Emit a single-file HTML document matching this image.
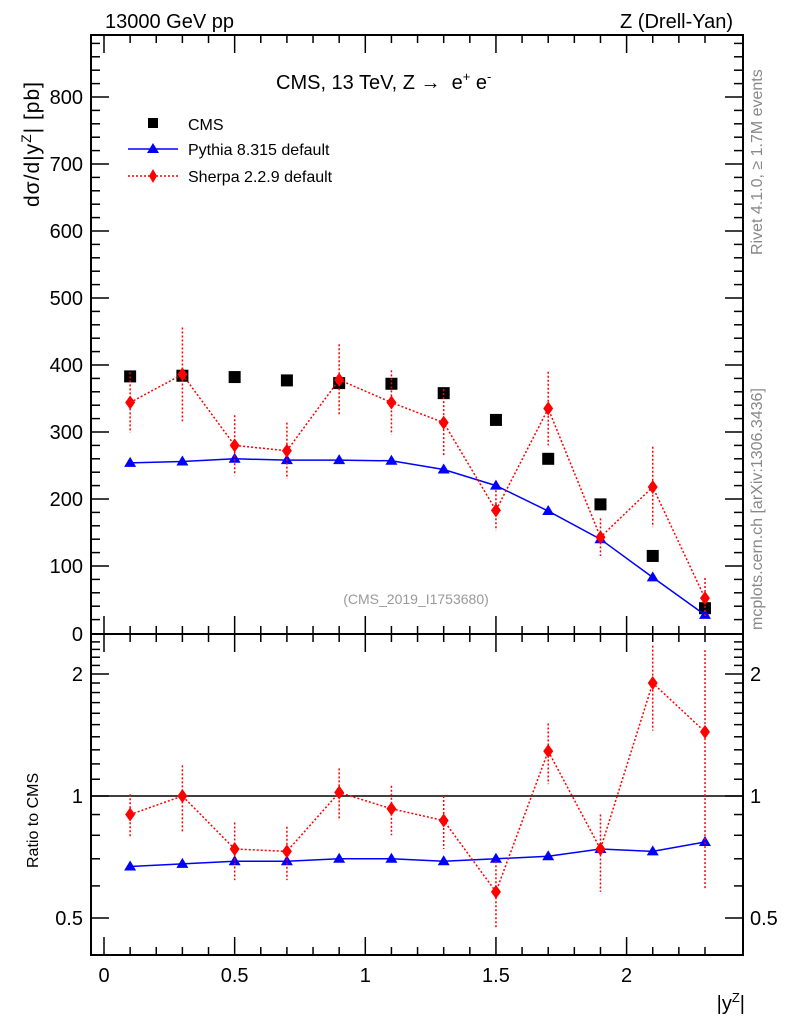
<!DOCTYPE html>
<html><head><meta charset="utf-8"><style>
body{margin:0;background:#fff;}
svg{display:block;font-family:"Liberation Sans",sans-serif;}
</style></head><body>
<svg id="c" width="786" height="1024" viewBox="0 0 786 1024" xmlns="http://www.w3.org/2000/svg">
<g id="g"></g>
<text x="105" y="28" font-size="20">13000 GeV pp</text>
<text x="733" y="28" font-size="20" text-anchor="end">Z (Drell-Yan)</text>
<text x="276" y="89" font-size="20">CMS, 13 TeV, Z → &#160;e<tspan dy="-8" font-size="13">+</tspan><tspan dy="8"> e</tspan><tspan dy="-8" font-size="13">-</tspan></text>
<text transform="translate(39,207) rotate(-90)" font-size="21" letter-spacing="1">dσ/d|y<tspan dy="-8" font-size="14">Z</tspan><tspan dy="8">| [pb]</tspan></text>
<text transform="translate(38,868) rotate(-90)" font-size="16">Ratio to CMS</text>
<text x="745" y="1010" font-size="20" text-anchor="end">|y<tspan dy="-8" font-size="13">Z</tspan><tspan dy="8">|</tspan></text>
<text transform="translate(762,255) rotate(-90)" font-size="16" fill="#888">Rivet 4.1.0, ≥ 1.7M events</text>
<text transform="translate(762,630) rotate(-90)" font-size="16" fill="#888">mcplots.cern.ch [arXiv:1306.3436]</text>
<text x="416" y="604" font-size="14" fill="#999" text-anchor="middle">(CMS_2019_I1753680)</text>
<g>
<rect x="148" y="118" width="10" height="10" fill="#000"/>
<text x="188" y="130" font-size="16">CMS</text>
<line x1="128" y1="149" x2="178" y2="149" stroke="#00f" stroke-width="1.5"/>
<path d="M153,143 L159,153 L147,153Z" fill="#00f"/>
<text x="188" y="155" font-size="16">Pythia 8.315 default</text>
<line x1="128" y1="176" x2="178" y2="176" stroke="#f00" stroke-width="1.5" stroke-dasharray="2,2"/>
<path d="M153,169 L157,176 L153,183 L149,176Z" fill="#f00"/>
<text x="188" y="182" font-size="16">Sherpa 2.2.9 default</text>
</g>
</svg>
<script>
const xs=[0.1,0.3,0.5,0.7,0.9,1.1,1.3,1.5,1.7,1.9,2.1,2.3];
const cms=[383,384,382,377,373,372,358,318,260,192,115,37];
const pythia=[254,256,260,258,258,257,244,220,182,140,83,27];
const sherpa=[344,386,280,272,378,344,314,183,335,143,218,52];
const sherpaErr=[45,70,45,42,53,48,50,30,55,28,60,30];
const pythiaRatio=[0.67,0.68,0.69,0.69,0.70,0.70,0.69,0.70,0.71,0.74,0.73,0.77];
const sherpaRatio=[0.90,1.00,0.74,0.73,1.02,0.93,0.87,0.58,1.29,0.74,1.90,1.44];
const sherpaRatioErr=[0.11,0.19,0.12,0.11,0.15,0.13,0.13,0.11,0.22,0.16,0.45,0.85];
const xTicks=[0,0.5,1,1.5,2];
const yTicks=[100,200,300,400,500,600,700,800];
const rTicks=[0.5,1,2];

const NS="http://www.w3.org/2000/svg",G=document.getElementById('g');
const L=91,R=743,T=35,MB=634,RB=955;
const X=v=>104+v*261.3;
const Y=v=>633-v*0.67;
const YR=v=>796-122*Math.log2(v);
function el(t,a,p){const e=document.createElementNS(NS,t);for(const k in a)e.setAttribute(k,a[k]);(p||G).appendChild(e);return e;}
function line(x1,y1,x2,y2,extra){return el('line',Object.assign({x1,y1,x2,y2,stroke:'#000','stroke-width':2},extra||{}));}
function txt(x,y,s,sz,anc){const t=el('text',{x,y,'font-size':sz,'text-anchor':anc});t.textContent=s;return t;}

let f1=el('rect',{x:L,y:T,width:R-L,height:MB-T,fill:'none',stroke:'#000','stroke-width':2});


let f2=el('rect',{x:L,y:MB,width:R-L,height:RB-MB,fill:'none',stroke:'#000','stroke-width':2});



for(let i=0;i<=23;i++){const v=i/10,x=X(v),maj=i%5==0,len=maj?18:8;
 line(x,MB,x,MB-len,{'stroke-width':1.5});line(x,T,x,T+len,{'stroke-width':1.5});
 line(x,RB,x,RB-len,{'stroke-width':1.5});line(x,MB,x,MB+len,{'stroke-width':1.5});}
xTicks.forEach(v=>{const t=txt(X(v),982,String(v),20,'middle');

});
for(let v=20;v<=880;v+=20){const y=Y(v),maj=v%100==0,len=maj?18:9;
 line(L,y,L+len,y,{'stroke-width':1.5});line(R,y,R-len,y,{'stroke-width':1.5});}
yTicks.forEach(v=>{const t=txt(83,Y(v)+7,String(v),20,'end');

});
txt(83,641,'0',20,'end');
[0.5,0.6,0.7,0.8,0.9,1,1.1,1.2,1.3,1.4,1.5,1.6,1.7,1.8,1.9,2,2.1,2.2,2.3,2.4,2.5].forEach(v=>{
 const y=YR(v);if(y<MB+2||y>RB)return;const maj=[0.5,1,2].includes(v),len=maj?18:9;
 line(L,y,L+len,y,{'stroke-width':1.5});line(R,y,R-len,y,{'stroke-width':1.5});});
rTicks.forEach(v=>{const y=YR(v)+7;const t=txt(83,y,String(v),20,'end');


const t2=txt(750,y,String(v),20,'start');

});
line(L,YR(1),R,YR(1),{'stroke-width':1.5});

function series(vals,Yf,color,dash,marker,errs,name){
 const pts=xs.map((x,i)=>X(x)+','+Yf(vals[i])).join(' ');
 const pl=el('polyline',{points:pts,fill:'none',stroke:color,'stroke-width':1.5,'stroke-dasharray':dash||'none'});
 
 
 xs.forEach((x,i)=>{const cx=X(x),cy=Yf(vals[i]);
  if(errs){const lo=Math.max(vals[i]-errs[i],0.001);line(cx,Yf(vals[i]+errs[i]),cx,Yf(lo),{stroke:color,'stroke-width':1.5,'stroke-dasharray':'2,2'});}
  let m;
  if(marker=='tri')m=el('path',{d:`M${cx},${cy-6} L${cx+6},${cy+4} L${cx-6},${cy+4}Z`,fill:color});
  else m=el('path',{d:`M${cx},${cy-7} L${cx+5},${cy} L${cx},${cy+7} L${cx-5},${cy}Z`,fill:color});
  
  });
}
xs.forEach((x,i)=>{const r=el('rect',{x:X(x)-6,y:Y(cms[i])-6,width:12,height:12,fill:'#000'});
 
 });
series(pythia,Y,'#00f',null,'tri',null,'pythia');
series(sherpa,Y,'#f00','2,2','dia',sherpaErr,'sherpa');
series(pythiaRatio,YR,'#00f',null,'tri',null,'pythia-ratio');
series(sherpaRatio,YR,'#f00','2,2','dia',sherpaRatioErr,'sherpa-ratio');
</script>
</body></html>
